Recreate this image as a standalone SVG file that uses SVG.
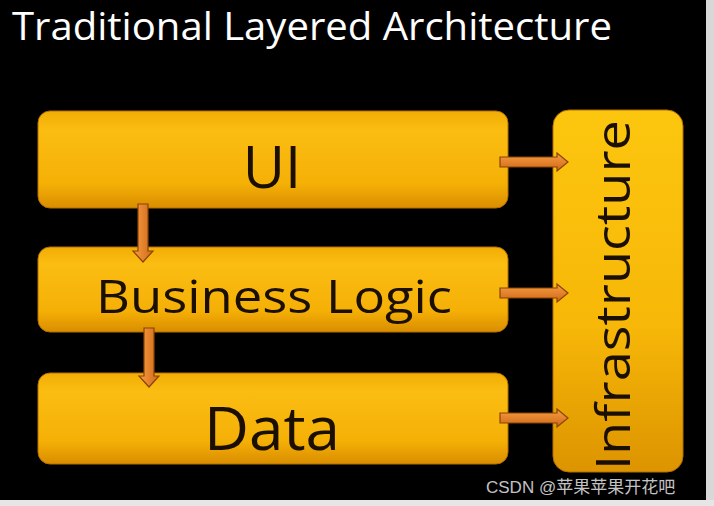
<svg xmlns="http://www.w3.org/2000/svg" width="714" height="506" viewBox="0 0 714 506">
<defs>
<linearGradient id="gBox" x1="0" y1="0" x2="0" y2="1">
<stop offset="0" stop-color="#f2ad05"/>
<stop offset="0.2" stop-color="#fbbd12"/>
<stop offset="0.75" stop-color="#f5b006"/>
<stop offset="1" stop-color="#d98d00"/>
</linearGradient>
<linearGradient id="gInfra" x1="0" y1="0" x2="0" y2="1">
<stop offset="0" stop-color="#fcc60e"/>
<stop offset="0.6" stop-color="#f7b708"/>
<stop offset="1" stop-color="#dc9400"/>
</linearGradient>
<linearGradient id="gArrH" x1="0" y1="0" x2="0" y2="1">
<stop offset="0" stop-color="#f7a040"/>
<stop offset="1" stop-color="#d0661a"/>
</linearGradient>
<linearGradient id="gArrV" x1="0" y1="0" x2="1" y2="0">
<stop offset="0" stop-color="#f7a040"/>
<stop offset="1" stop-color="#d0661a"/>
</linearGradient>
</defs>
<style>
.box{fill:url(#gBox);stroke:#b56f00;stroke-width:1}
.infra{fill:url(#gInfra);stroke:#b56f00;stroke-width:1}
.lbl{font-family:"Open Sans","DejaVu Sans",sans-serif;fill:#1a0f00}
.ah{fill:url(#gArrH);stroke:#8a4306;stroke-width:1.2}
.av{fill:url(#gArrV);stroke:#8a4306;stroke-width:1.2}
</style>
<rect x="0" y="0" width="714" height="506" fill="#000"/>
<rect x="706" y="0" width="8" height="506" fill="#d8d8d8"/>
<rect x="0" y="500" width="714" height="6" fill="#e6e6e6"/>
<text x="12" y="40" font-family="'Open Sans','DejaVu Sans',sans-serif" font-size="38" fill="#fff" textLength="600" lengthAdjust="spacingAndGlyphs">Traditional Layered Architecture</text>

<g id="infrastructure">
<rect class="infra" x="553" y="110" width="130" height="362" rx="16"/>
<text class="lbl" transform="translate(630 295) rotate(-90)" text-anchor="middle" font-size="48" textLength="350" lengthAdjust="spacingAndGlyphs">Infrastructure</text>
</g>
<g id="ui">
<rect class="box" x="38" y="111" width="470" height="97" rx="12"/>
<text class="lbl" x="272" y="188" text-anchor="middle" font-size="58">UI</text>
</g>
<g id="business-logic">
<rect class="box" x="38" y="247" width="470" height="85" rx="12"/>
<text class="lbl" x="274" y="313" text-anchor="middle" font-size="46" textLength="356" lengthAdjust="spacingAndGlyphs">Business Logic</text>
</g>
<g id="data">
<rect class="box" x="38" y="373" width="470" height="91" rx="12"/>
<text class="lbl" x="272" y="450" text-anchor="middle" font-size="60" textLength="136" lengthAdjust="spacingAndGlyphs">Data</text>
</g>

<g id="connectors">
<path class="av" d="M138 204 H148 V251 H153 L143 262 L133 251 H138 Z"/>
<path class="av" d="M144 328 H154 V376 H159 L149 387 L139 376 H144 Z"/>
<path class="ah" d="M500 157 H557 V153 L568 162 L557 171 V167 H500 Z"/>
<path class="ah" d="M500 288 H557 V284 L568 293 L557 302 V298 H500 Z"/>
<path class="ah" d="M500 413 H557 V409 L568 418 L557 427 V423 H500 Z"/>
</g>

<text x="486" y="493" font-family="'Liberation Sans','Noto Sans CJK SC',sans-serif" font-size="17" fill="#e8e8e8" fill-opacity="0.85">CSDN @苹果苹果开花吧</text>
</svg>
